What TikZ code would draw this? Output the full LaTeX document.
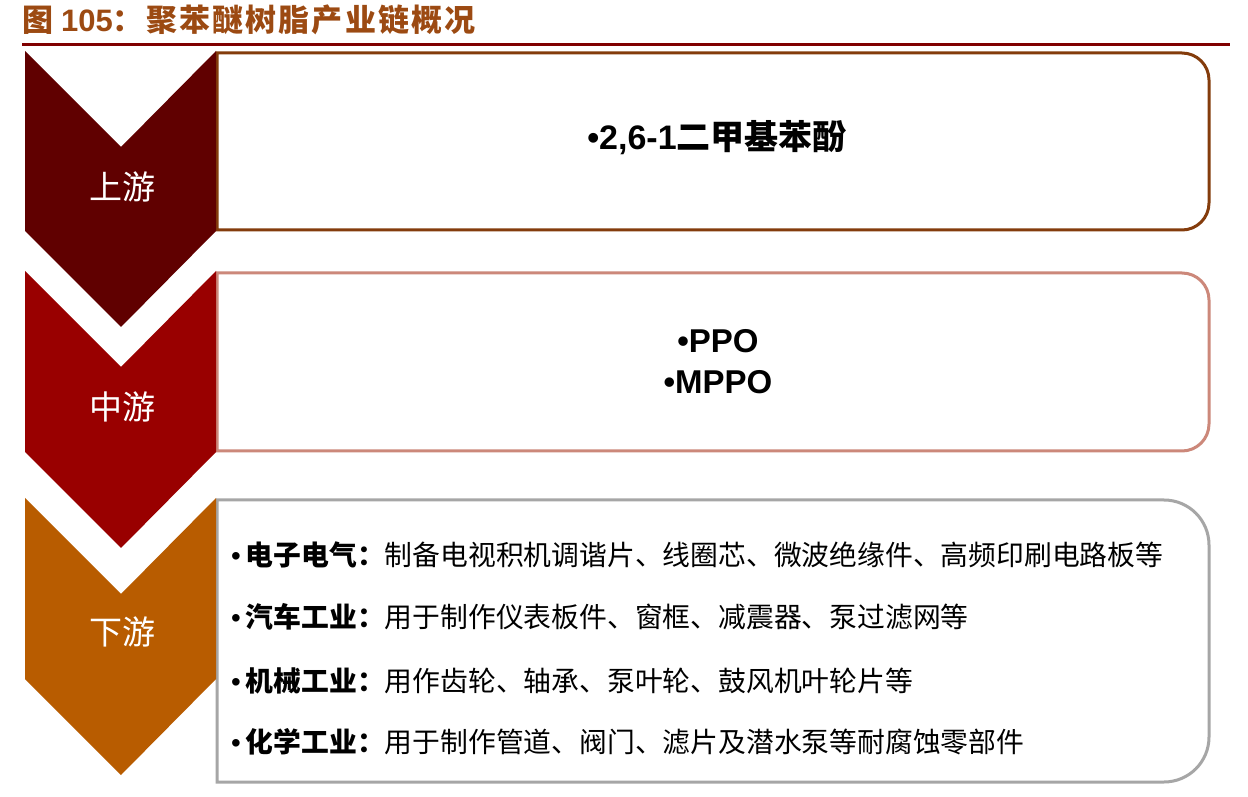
\documentclass[tikz,border=0pt]{standalone}
\usepackage{fontspec}
\setmainfont{Liberation Sans}
\newfontfamily\cjk{Noto Sans CJK SC}
\newfontfamily\cjktitle[LetterSpace=7]{Noto Sans CJK SC}
\definecolor{titlecol}{RGB}{156,74,18}
\definecolor{linecol}{RGB}{128,0,0}
\definecolor{chevA}{RGB}{96,0,0}
\definecolor{chevB}{RGB}{153,0,0}
\definecolor{chevC}{RGB}{184,92,0}
\definecolor{boxA}{RGB}{132,60,12}
\definecolor{boxB}{RGB}{204,136,122}
\definecolor{boxC}{RGB}{166,166,166}
\begin{document}
\begin{tikzpicture}[x=1pt,y=1pt,
  chevlabel/.style={text=white,font=\cjk\fontsize{33}{36}\selectfont,inner sep=0pt},
  boxline/.style={line width=3pt},
  itemtext/.style={anchor=west,inner sep=0pt,font=\cjk\fontsize{27.8}{32}\selectfont}]
\useasboundingbox (0,0) rectangle (1248,796);
\fill[white] (0,0) rectangle (1248,796);
% title
\node[anchor=base west,inner sep=0pt,text=titlecol] (title) at (22,764.5)
  {\cjktitle\bfseries\fontsize{31}{34}\selectfont 图\hspace{8pt}{\rmfamily\bfseries 105}：聚苯醚树脂产业链概况};
\coordinate (tl) at (22,751.5);
\coordinate (tr) at (1230,751.5);
\draw[linecol,line width=3pt] (tl) -- (tr);
% boxes
\draw[boxA,boxline] (217,743) -- (1182,743) arc[start angle=90,end angle=0,radius=27]
  -- (1209,593) arc[start angle=0,end angle=-90,radius=27] -- (217,566) -- cycle;
\draw[boxB,boxline] (217,523) -- (1182,523) arc[start angle=90,end angle=0,radius=27]
  -- (1209,372) arc[start angle=0,end angle=-90,radius=27] -- (217,345) -- cycle;
\draw[boxC,boxline] (217,296) -- (1164,296) arc[start angle=90,end angle=0,radius=45]
  -- (1209,59) arc[start angle=0,end angle=-90,radius=45] -- (217,14) -- cycle;
% chevrons
\fill[chevA] (25,745) -- (121,649) -- (216,745) -- (216,565) -- (121,469) -- (25,565) -- cycle;
\fill[chevB] (25,525) -- (121,429) -- (216,525) -- (216,344) -- (121,248) -- (25,344) -- cycle;
\fill[chevC] (25,298) -- (121,202) -- (216,298) -- (216,117) -- (121,21) -- (25,117) -- cycle;
\node[chevlabel] (up) at (122,609) {上游};
\node[chevlabel] (mid) at (122,389) {中游};
\node[chevlabel] (down) at (122,164) {下游};
% box texts
\node[inner sep=0pt] (t1) at (717,658) {\bfseries\fontsize{34}{38}\selectfont •2,6-1{\cjk 二甲基苯酚}};
\node[inner sep=0pt] (t2a) at (718,455) {\bfseries\fontsize{33}{36}\selectfont •PPO};
\node[inner sep=0pt] (t2b) at (718,414) {\bfseries\fontsize{33}{36}\selectfont •MPPO};
\node[itemtext] (i1) at (231,241) {{\rmfamily •}\hspace{5pt}{\bfseries 电子电气：}制备电视积机调谐片、线圈芯、微波绝缘件、高频印刷电路板等};
\node[itemtext] (i2) at (231,179) {{\rmfamily •}\hspace{5pt}{\bfseries 汽车工业：}用于制作仪表板件、窗框、减震器、泵过滤网等};
\node[itemtext] (i3) at (231,115) {{\rmfamily •}\hspace{5pt}{\bfseries 机械工业：}用作齿轮、轴承、泵叶轮、鼓风机叶轮片等};
\node[itemtext] (i4) at (231,54) {{\rmfamily •}\hspace{5pt}{\bfseries 化学工业：}用于制作管道、阀门、滤片及潜水泵等耐腐蚀零部件};
\end{tikzpicture}
\end{document}
